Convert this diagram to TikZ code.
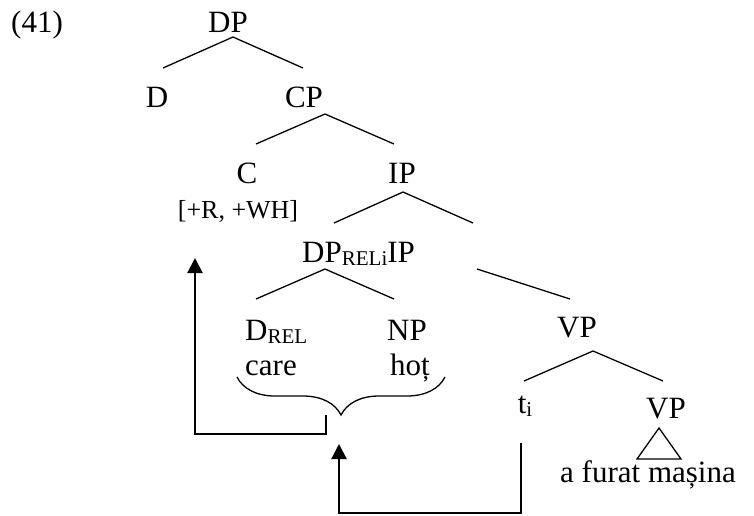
\documentclass[tikz,border=0pt]{standalone}
\usepackage{fontspec}
\setmainfont{Liberation Serif}
\usetikzlibrary{arrows.meta,calc,decorations.pathreplacing}

% lowered, smaller index as in DP_{REL}
\newcommand\lowsub[1]{{\fontsize{21}{21}\selectfont\raisebox{-3pt}{#1}}}
% one tree branch: anchor+offset to anchor+offset
\newcommand\branch[4]{\draw[branch] ($(#1)+#2$) -- ($(#3)+#4$);}

\begin{document}
\begin{tikzpicture}[x=1pt,y=-1pt,
    cat/.style={inner sep=0pt,anchor=base,font=\fontsize{31}{36}\selectfont},
    feat/.style={inner sep=0pt,anchor=base,font=\fontsize{26}{30}\selectfont},
    branch/.style={line width=1.3pt},
    move/.style={line width=2.2pt,-{Triangle[length=15pt,width=15pt]}}]
   \useasboundingbox (0,0) rectangle (754,515);

   \node[cat,anchor=base west] (ex) at (11,32) {(41)};
   \node[cat] (dp) at (228,32) {DP};
   \node[cat] (d) at (157,107) {D};
   \node[cat] (cp) at (304,107) {CP};
   \node[cat] (c) at (247,183) {C};
   \node[feat] (feat) at (238,218) {[+R, +WH]};
   \node[cat] (ip) at (402,183) {IP};
   \node[cat,anchor=base west] (dprel) at (302,262) {DP\lowsub{RELi}IP};
   \node[cat,anchor=base west] (drel) at (245,340) {D\lowsub{REL}};
   \node[cat] (np) at (407,340) {NP};
   \node[cat,anchor=base west] (care) at (245,375) {care};
   \node[cat] (hot) at (410,375) {hoț};
   \node[cat] (vp) at (577,337) {VP};
   \node[cat] (ti) at (525,413) {t\lowsub{i}};
   \node[cat] (vpl) at (666,418) {VP};
   \node[cat] (words) at (648,482) {a furat mașina};

   % branches
   \branch{dp.base}{(5,5)}{d.base}{(6,-39)}
   \branch{dp.base}{(5,5)}{cp.base}{(-1,-39)}
   \branch{cp.base}{(21,7)}{c.base}{(9,-39)}
   \branch{cp.base}{(21,7)}{ip.base}{(-8,-39)}
   \branch{ip.base}{(1,9)}{dprel.base west}{(32,-39)}
   \branch{ip.base}{(1,9)}{vp.base}{(-104,-114)}
   \branch{dprel.base west}{(175,7)}{vp.base}{(-7,-38)}
   \branch{dprel.base west}{(23,7)}{drel.base west}{(11,-41)}
   \branch{dprel.base west}{(23,7)}{np.base}{(-13,-41)}
   \branch{vp.base}{(16,14)}{ti.base}{(-1,-32)}
   \branch{vp.base}{(16,14)}{vpl.base}{(-3,-37)}
   \draw[branch] ($(vpl.base)+(-7,10)$) -- ($(vpl.base)+(-29,41)$)
      -- ($(vpl.base)+(15,41)$) -- cycle;

   % brace under care / hot
   \coordinate (bl) at ($(care.base west)+(-8,2)$);
   \coordinate (br) at ($(hot.base)+(35,2)$);
   \draw[branch,decorate,decoration={brace,mirror,amplitude=38pt}] (bl) -- (br);
   \coordinate (tip) at ($(bl)!0.5!(br)+(0,38)$);

   % movement arrows
   \draw[move] ($(tip)+(-15,0)$) -- ++(0,19) -| ($(feat.base)+(-43,40)$);
   \draw[move] ($(ti.base)+(-4,30)$) -- ++(0,70) -| ($(tip)+(-2,29)$);
\end{tikzpicture}
\end{document}
